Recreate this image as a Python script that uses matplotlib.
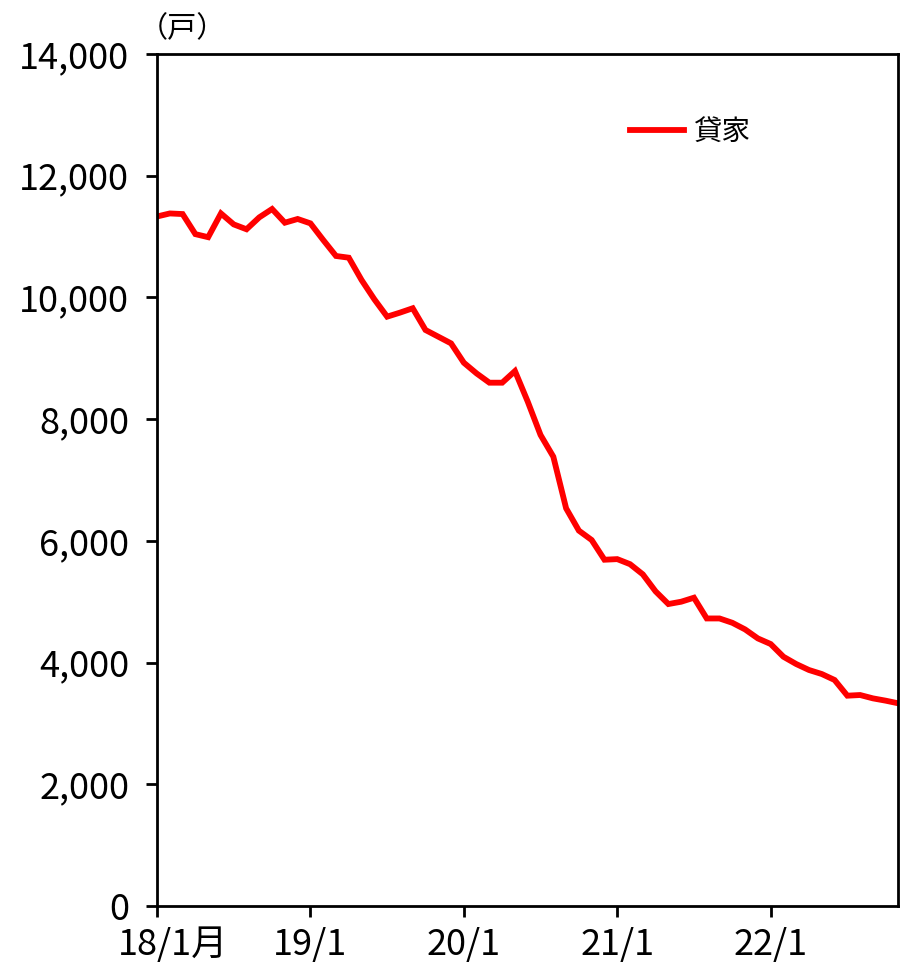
import matplotlib
matplotlib.use("Agg")
import matplotlib.pyplot as plt
from matplotlib.transforms import ScaledTranslation
import numpy as np

plt.rcParams['font.family'] = ['Noto Sans CJK JP', 'DejaVu Sans']

# 貸家 monthly, 2018/1 - 2022/11
values = [11330, 11380, 11370, 11040, 10990, 11380, 11200, 11120, 11316, 11453,
          11228, 11289, 11217, 10944, 10681, 10653, 10286, 9969, 9684, 9750,
          9822, 9465, 9355, 9245, 8927, 8751, 8599, 8599, 8790, 8287,
          7740, 7383, 6535, 6168, 6014, 5690, 5700, 5617, 5450, 5170,
          4962, 5000, 5066, 4725, 4725, 4654, 4545, 4397, 4305, 4096,
          3976, 3878, 3812, 3714, 3456, 3467, 3412, 3374, 3330]
series_label = "貸家"
xtick_labels = ["18/1月", "19/1", "20/1", "21/1", "22/1"]
xtick_pos = [0, 12, 24, 36, 48]
yticks = [0, 2000, 4000, 6000, 8000, 10000, 12000, 14000]
unit_label = "（戸）"

fig = plt.figure(figsize=(9.03, 9.66), dpi=100)
ax = fig.add_axes([0.1739, 0.0621, 0.8211, 0.882])
x = np.arange(len(values))
ax.plot(x, values, color='#ff0000', linewidth=4.2, label=series_label, solid_joinstyle='miter')
ax.set_xlim(0, len(values) - 1)
ax.set_ylim(0, 14000)
ax.set_yticks(yticks)
ax.set_yticklabels([f"{v:,}" for v in yticks])
ax.set_xticks(xtick_pos)
ax.set_xticklabels(xtick_labels)
ax.tick_params(axis='both', direction='out', length=8, width=2, labelsize=26, colors='black')
ax.tick_params(axis='y', pad=12)
ax.tick_params(axis='x', pad=7)
# first label: the "18/1" part is centred on the tick, "月" extends to the right
first = ax.get_xticklabels()[0]
first.set_transform(first.get_transform() + ScaledTranslation(0.16, 0, fig.dpi_scale_trans))
for s in ax.spines.values():
    s.set_linewidth(2)
    s.set_color('black')
ax.text(-0.025, 1.012, unit_label, transform=ax.transAxes, fontsize=21, ha='left', va='bottom')
ax.legend(loc='center left', bbox_to_anchor=(0.638, 0.908), frameon=False,
          prop={'size': 20.5},
          handlelength=1.9, handletextpad=0.3, borderaxespad=0, borderpad=0)
fig.savefig("out.png", dpi=100)
